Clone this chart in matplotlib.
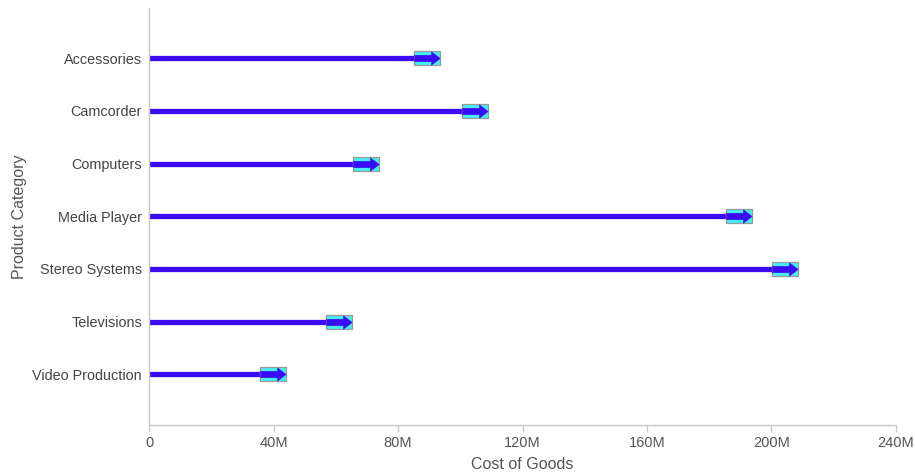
import matplotlib
matplotlib.use("Agg")
import matplotlib.pyplot as plt
from matplotlib.path import Path

categories = ["Accessories", "Camcorder", "Computers", "Media Player",
              "Stereo Systems", "Televisions", "Video Production"]
cost_of_goods = [89.3e6, 104.6e6, 69.7e6, 189.4e6, 204.2e6, 61.2e6, 39.8e6]
x_ticks = [0, 40e6, 80e6, 120e6, 160e6, 200e6, 240e6]
x_tick_labels = ["0", "40M", "80M", "120M", "160M", "200M", "240M"]

plt.rcParams['font.family'] = ['Liberation Sans', 'DejaVu Sans']

fig = plt.figure(figsize=(9.15, 4.73), dpi=100)
ax = fig.add_axes([149 / 915, 48 / 473, 747 / 915, 417 / 473])

ypos = list(range(len(categories)))[::-1]

# marker shapes: box behind, arrow on top
box = Path([(-1, -0.54), (1, -0.54), (1, 0.54), (-1, 0.54), (-1, -0.54)],
           [Path.MOVETO, Path.LINETO, Path.LINETO, Path.LINETO, Path.CLOSEPOLY])
arrow = Path([(-1, -0.25), (0.3, -0.25), (0.3, -0.52), (0.98, 0), (0.3, 0.52),
              (0.3, 0.25), (-1, 0.25), (-1, -0.25)],
             [Path.MOVETO] + [Path.LINETO] * 6 + [Path.CLOSEPOLY])

line_col = '#3a0cf5'
ax.hlines(ypos, 0, cost_of_goods, color=line_col, linewidth=3.8, zorder=2)
ms = 26 * 72 / 100
ax.plot(cost_of_goods, ypos, linestyle='none', marker=box, markersize=ms,
        markerfacecolor='#45eef0', markeredgecolor='#9a9a9a', markeredgewidth=0.9, zorder=3)
ax.plot(cost_of_goods, ypos, linestyle='none', marker=arrow, markersize=ms,
        markerfacecolor=line_col, markeredgecolor=line_col, markeredgewidth=0.3, zorder=4)

ax.set_xlim(0, 240e6)
ax.set_ylim(-0.96, 6.95)
ax.set_xticks(x_ticks)
ax.set_xticklabels(x_tick_labels)
ax.set_yticks(ypos)
ax.set_yticklabels(categories)

for s in ['top', 'right']:
    ax.spines[s].set_visible(False)
for s in ['left', 'bottom']:
    ax.spines[s].set_color('#c8c8c8')
    ax.spines[s].set_linewidth(1.0)

ax.tick_params(axis='x', colors='#c8c8c8', labelcolor='#555555', labelsize=10.5,
               length=5, width=1, pad=3)
ax.tick_params(axis='y', length=0, labelcolor='#444444', labelsize=10.4, pad=5)

ax.set_xlabel("Cost of Goods", fontsize=11.5, color='#555555', labelpad=5)
ax.set_ylabel("Product Category", fontsize=11.5, color='#555555', labelpad=4)

fig.savefig("out.png", dpi=100)
